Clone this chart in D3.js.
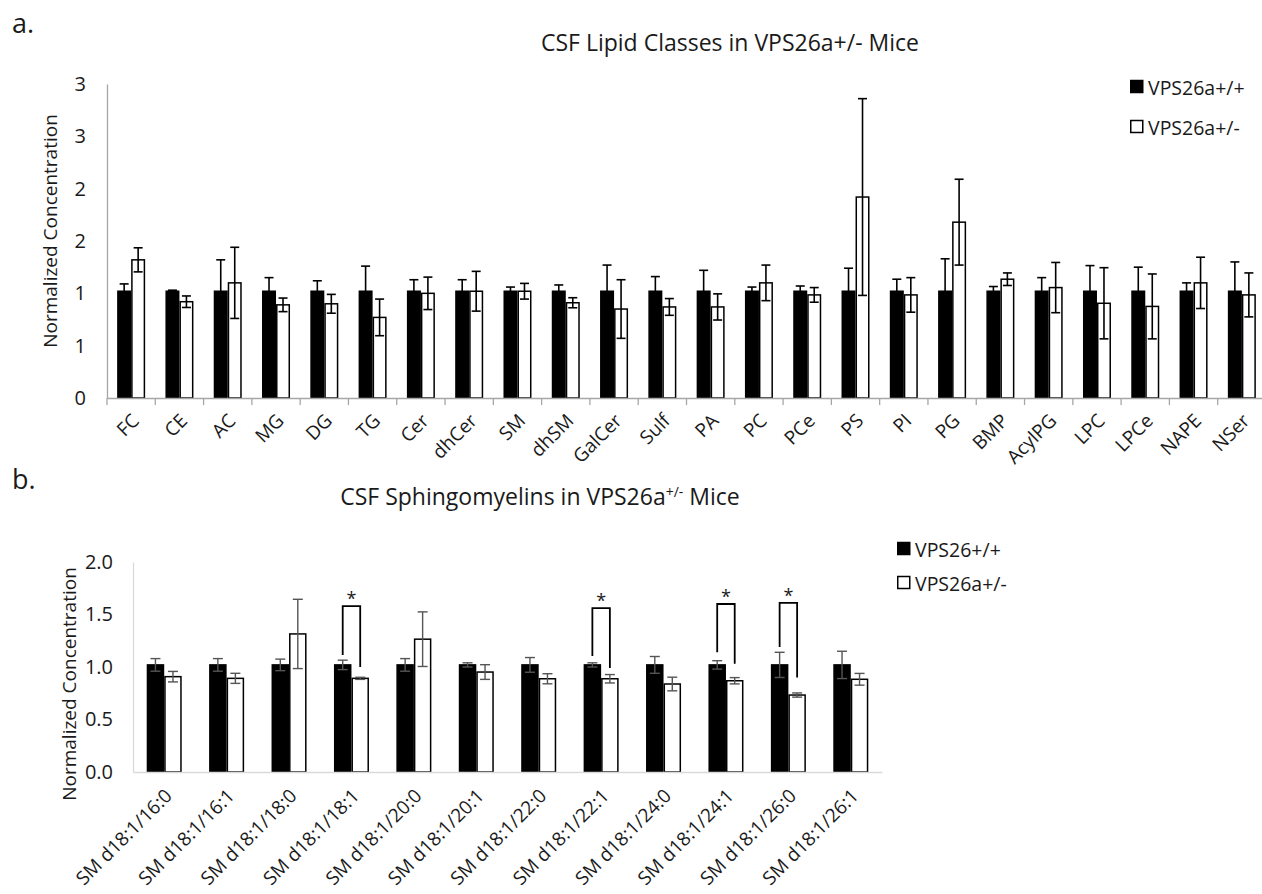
<!DOCTYPE html>
<html>
<head>
<meta charset="utf-8">
<script src="https://cdn.jsdelivr.net/npm/d3@7"></script>
<style>
  body { margin: 0; background: #fff; }
  text { font-family: "Open Sans", "Noto Sans", sans-serif; fill: #1a1a1a; }
</style>
</head>
<body>
<script>
/**
 * DATA
 * */
const groupsA = ["VPS26a+/+", "VPS26a+/-"];
const groupsB = ["VPS26+/+", "VPS26a+/-"];

// a. lipid classes
const lipidClasses = ["FC", "CE", "AC", "MG", "DG", "TG", "Cer", "dhCer", "SM", "dhSM", "GalCer", "Sulf",
  "PA", "PC", "PCe", "PS", "PI", "PG", "BMP", "AcylPG", "LPC", "LPCe", "NAPE", "NSer"];
const lipidCtrl = [1.02, 1.02, 1.02, 1.02, 1.02, 1.02, 1.02, 1.02, 1.02, 1.02, 1.02, 1.02,
  1.02, 1.02, 1.02, 1.02, 1.02, 1.02, 1.02, 1.02, 1.02, 1.02, 1.02, 1.02];
const lipidCtrlErr = [0.07, 0.01, 0.30, 0.13, 0.10, 0.24, 0.11, 0.11, 0.04, 0.06, 0.25, 0.14,
  0.20, 0.04, 0.05, 0.22, 0.115, 0.31, 0.045, 0.13, 0.245, 0.23, 0.08, 0.28];
const lipidHet = [1.32, 0.92, 1.10, 0.89, 0.90, 0.77, 1.00, 1.02, 1.02, 0.91, 0.85, 0.87,
  0.87, 1.10, 0.985, 1.92, 0.985, 1.68, 1.135, 1.055, 0.905, 0.875, 1.10, 0.985];
const lipidHetErr = [0.115, 0.055, 0.34, 0.065, 0.09, 0.175, 0.155, 0.19, 0.075, 0.048, 0.28, 0.08,
  0.125, 0.17, 0.07, 0.94, 0.165, 0.41, 0.06, 0.24, 0.34, 0.31, 0.245, 0.21];
const lipidTicks = [0, 0.5, 1, 1.5, 2, 2.5, 3];
const lipidTickLabels = ["0", "1", "1", "2", "2", "3", "3"];

// b. sphingomyelins
const smSpecies = ["SM d18:1/16:0", "SM d18:1/16:1", "SM d18:1/18:0", "SM d18:1/18:1", "SM d18:1/20:0",
  "SM d18:1/20:1", "SM d18:1/22:0", "SM d18:1/22:1", "SM d18:1/24:0", "SM d18:1/24:1",
  "SM d18:1/26:0", "SM d18:1/26:1"];
const smCtrl = [1.02, 1.02, 1.02, 1.02, 1.02, 1.02, 1.02, 1.02, 1.02, 1.02, 1.02, 1.02];
const smCtrlErr = [0.06, 0.06, 0.055, 0.045, 0.06, 0.02, 0.07, 0.02, 0.08, 0.04, 0.12, 0.13];
const smHet = [0.908, 0.892, 1.315, 0.892, 1.265, 0.952, 0.888, 0.888, 0.838, 0.869, 0.733, 0.883];
const smHetErr = [0.05, 0.048, 0.33, 0.01, 0.26, 0.07, 0.048, 0.04, 0.065, 0.03, 0.02, 0.056];
const smTicks = [0, 0.5, 1, 1.5, 2];
const smTickLabels = ["0.0", "0.5", "1.0", "1.5", "2.0"];

// significance brackets: species, bracket top, left leg end, right leg end
const sigSpecies = ["SM d18:1/18:1", "SM d18:1/22:1", "SM d18:1/24:1", "SM d18:1/26:0"];
const sigTop = [1.58, 1.56, 1.60, 1.61];
const sigLeftEnd = [1.115, 1.105, 1.14, 1.19];
const sigRightEnd = [1.00, 0.99, 1.03, 0.90];

/**
 * SETUP
 * */
const width = 1262, height = 894;
const svg = d3.select("body").append("svg")
  .attr("width", width)
  .attr("height", height);

function toRows(cats, ctrl, ctrlErr, het, hetErr, groups) {
  return cats.map((c, i) => ({
    cat: c,
    vals: [
      { g: groups[0], v: ctrl[i], e: ctrlErr[i] },
      { g: groups[1], v: het[i], e: hetErr[i] }
    ]
  }));
}

/**
 * DRAW ONE PANEL
 * */
function drawPanel(opt) {
  const g = svg.append("g");
  const rows = toRows(opt.cats, opt.ctrl, opt.ctrlErr, opt.het, opt.hetErr, opt.groups);

  const x0 = d3.scaleBand().domain(opt.cats).range(opt.xRange);
  const x1 = d3.scaleBand().domain(opt.groups).range([0, x0.bandwidth()])
    .paddingInner(0).paddingOuter(opt.outerPad);
  const y = d3.scaleLinear().domain(opt.yDomain).range(opt.yRange);
  const base = y(0);

  // y axis
  const yAxis = g.append("g")
    .attr("transform", `translate(${opt.xRange[0]},0)`)
    .call(d3.axisLeft(y).tickValues(opt.ticks)
      .tickFormat((d, i) => opt.tickLabels[i])
      .tickSize(0).tickSizeOuter(0).tickPadding(opt.tickPad));
  yAxis.select(".domain").attr("stroke", opt.axisColor).attr("stroke-width", 1.3);
  yAxis.selectAll("text").attr("font-size", 20).attr("font-family", null).attr("fill", "#1a1a1a");

  // bars
  const cat = g.selectAll("g.cat").data(rows).join("g")
    .attr("class", "cat")
    .attr("transform", d => `translate(${x0(d.cat)},0)`);

  cat.selectAll("rect").data(d => d.vals).join("rect")
    .attr("x", d => x1(d.g) + 0.75)
    .attr("width", x1.bandwidth() - 1.5)
    .attr("y", d => y(d.v))
    .attr("height", d => base - y(d.v))
    .attr("fill", (d, i) => i === 0 ? "#000" : "#fff")
    .attr("stroke", "#000")
    .attr("stroke-width", 1.5);

  // error bars
  const eb = cat.selectAll("g.err").data(d => d.vals).join("g")
    .attr("class", "err")
    .attr("stroke", opt.errColor)
    .attr("stroke-width", opt.errWidth);
  const cx = d => x1(d.g) + x1.bandwidth() / 2;
  eb.append("line")
    .attr("x1", cx).attr("x2", cx)
    .attr("y1", d => y(d.v - d.e)).attr("y2", d => y(d.v + d.e));
  eb.append("line")
    .attr("x1", d => cx(d) - opt.cap).attr("x2", d => cx(d) + opt.cap)
    .attr("y1", d => y(d.v + d.e)).attr("y2", d => y(d.v + d.e));
  eb.append("line")
    .attr("x1", d => cx(d) - opt.cap).attr("x2", d => cx(d) + opt.cap)
    .attr("y1", d => y(d.v - d.e)).attr("y2", d => y(d.v - d.e));

  // x axis
  const xAxis = g.append("g")
    .attr("transform", `translate(0,${base})`)
    .call(d3.axisBottom(x0).tickSize(0).tickSizeOuter(0));
  xAxis.select(".domain").attr("stroke", opt.axisColor).attr("stroke-width", 1.3);
  xAxis.selectAll(".tick text")
    .attr("font-size", opt.xFont)
    .attr("font-family", null)
    .attr("fill", "#1a1a1a")
    .attr("x", 0).attr("y", 0).attr("dy", 0)
    .attr("text-anchor", "end")
    .attr("transform", `translate(${opt.labelDx},${opt.labelDy}) rotate(-45)`);

  if (opt.boundaryTicks) {
    const bounds = opt.cats.map(c => x0(c));
    xAxis.selectAll("line.bt").data(bounds).join("line")
      .attr("class", "bt")
      .attr("x1", d => d).attr("x2", d => d)
      .attr("y1", 0).attr("y2", 7)
      .attr("stroke", opt.axisColor).attr("stroke-width", 1.3);
  }

  // titles
  g.append("text")
    .attr("x", opt.titleX).attr("y", opt.titleY)
    .attr("text-anchor", "middle")
    .attr("font-size", 23)
    .call(opt.titleText);

  g.append("text")
    .attr("transform", `translate(${opt.yTitleX},${opt.yTitleY}) rotate(-90)`)
    .attr("text-anchor", "middle")
    .attr("font-size", 19)
    .text("Normalized Concentration");

  g.append("text")
    .attr("x", 12).attr("y", opt.panelY)
    .attr("font-size", 27)
    .text(opt.panel);

  // legend
  const leg = g.append("g").attr("transform", `translate(${opt.legX},${opt.legY})`);
  const li = leg.selectAll("g").data(opt.groups).join("g")
    .attr("transform", (d, i) => `translate(0,${i * opt.legStep})`);
  li.append("rect")
    .attr("x", 0.75).attr("y", -6.5)
    .attr("width", 12).attr("height", 12)
    .attr("fill", (d, i) => i === 0 ? "#000" : "#fff")
    .attr("stroke", "#000").attr("stroke-width", 1.5);
  li.append("text")
    .attr("x", 18).attr("y", 0)
    .attr("dominant-baseline", "central")
    .attr("font-size", 19.5)
    .text(d => d);

  return { g, x0, x1, y };
}

/**
 * PANEL a
 * */
drawPanel({
  panel: "a.", panelY: 33,
  cats: lipidClasses, ctrl: lipidCtrl, ctrlErr: lipidCtrlErr, het: lipidHet, hetErr: lipidHetErr,
  groups: groupsA,
  xRange: [107, 1266], outerPad: 0.725,
  yDomain: [0, 3], yRange: [398, 84],
  ticks: lipidTicks, tickLabels: lipidTickLabels, tickPad: 21,
  axisColor: "#a6a6a6", boundaryTicks: true,
  errColor: "#000", errWidth: 1.6, cap: 4.5,
  xFont: 19, labelDx: 9, labelDy: 24,
  titleX: 730, titleY: 51,
  titleText: t => t.text("CSF Lipid Classes in VPS26a+/- Mice"),
  yTitleX: 57, yTitleY: 231,
  legX: 1130, legY: 87, legStep: 40
});

/**
 * PANEL b
 * */
const pb = drawPanel({
  panel: "b.", panelY: 489,
  cats: smSpecies, ctrl: smCtrl, ctrlErr: smCtrlErr, het: smHet, hetErr: smHetErr,
  groups: groupsB,
  xRange: [133, 882], outerPad: 0.783,
  yDomain: [0, 2], yRange: [772, 562],
  ticks: smTicks, tickLabels: smTickLabels, tickPad: 20,
  axisColor: "#d9d9d9", boundaryTicks: false,
  errColor: "#555", errWidth: 1.4, cap: 5,
  xFont: 19, labelDx: 9, labelDy: 25,
  titleX: 540, titleY: 505,
  titleText: t => {
    t.append("tspan").text("CSF Sphingomyelins in VPS26a");
    t.append("tspan").attr("dy", -8).attr("font-size", 14).text("+/-");
    t.append("tspan").attr("dy", 8).text(" Mice");
  },
  yTitleX: 76, yTitleY: 684,
  legX: 897, legY: 549, legStep: 34
});

// significance brackets
const sig = sigSpecies.map((s, i) => ({ s, top: sigTop[i], l: sigLeftEnd[i], r: sigRightEnd[i] }));
const bx = (s, gi) => pb.x0(s) + pb.x1(groupsB[gi]) + pb.x1.bandwidth() / 2;
pb.g.selectAll("path.sig").data(sig).join("path")
  .attr("class", "sig")
  .attr("fill", "none")
  .attr("stroke", "#000")
  .attr("stroke-width", 1.8)
  .attr("d", d => {
    const path = d3.path();
    path.moveTo(bx(d.s, 0), pb.y(d.l));
    path.lineTo(bx(d.s, 0), pb.y(d.top));
    path.lineTo(bx(d.s, 1), pb.y(d.top));
    path.lineTo(bx(d.s, 1), pb.y(d.r));
    return path.toString();
  });
pb.g.selectAll("text.star").data(sig).join("text")
  .attr("class", "star")
  .attr("x", d => (bx(d.s, 0) + bx(d.s, 1)) / 2)
  .attr("y", d => pb.y(d.top) - 1)
  .attr("text-anchor", "middle")
  .attr("font-size", 18)
  .text("*");
</script>
</body>
</html>
